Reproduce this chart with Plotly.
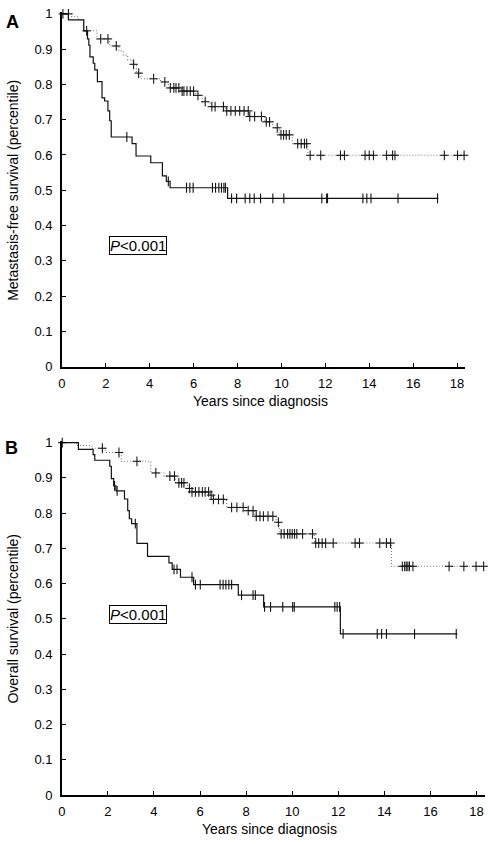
import numpy as np
import plotly.graph_objects as go

# ---------------- Panel A: metastasis-free survival ----------------
a_good_t = [0, 0.45, 0.75, 0.98, 1.6, 2.18, 2.6, 2.8, 3.0, 3.2, 3.4, 3.6, 4.5, 4.85, 5.45,
            6.1, 6.4, 6.75, 7.45, 8.52, 9.25, 9.6, 9.9, 10.5, 11.2]
a_good_s = [1.0, 0.992, 0.983, 0.952, 0.929, 0.909, 0.895, 0.883, 0.87, 0.857, 0.832, 0.816, 0.807, 0.79, 0.781,
            0.769, 0.751, 0.737, 0.725, 0.709, 0.694, 0.677, 0.657, 0.632, 0.599]
a_good_end = 18.32
a_good_cens = [0.05, 0.3, 1.13, 1.77, 2.1, 2.48, 3.27, 3.5, 4.18, 4.69, 4.94, 5.1, 5.2, 5.33, 5.48, 5.56,
               5.7, 5.85, 6.0, 6.2, 6.53, 6.83, 6.98, 7.36, 7.51, 7.7, 7.9, 8.1, 8.3, 8.49, 8.56, 8.78,
               9.09, 9.31, 9.46, 9.81, 9.98, 10.1, 10.22, 10.36, 10.74, 10.9, 11.05, 11.15, 11.31, 11.79,
               12.69, 12.87, 13.81, 14.0, 14.19, 14.79, 15.06, 15.17, 17.42, 18.02, 18.32]

a_poor_t = [0, 0.3, 1.0, 1.17, 1.23, 1.28, 1.43, 1.5, 1.62, 1.83, 1.95, 2.1, 2.18, 2.25, 3.2, 3.38,
            4.05, 4.58, 4.76, 4.93, 7.55]
a_poor_s = [1.0, 0.983, 0.952, 0.929, 0.911, 0.878, 0.86, 0.841, 0.808, 0.762, 0.753, 0.725, 0.697, 0.651,
            0.632, 0.597, 0.578, 0.541, 0.525, 0.507, 0.477]
a_poor_end = 17.15
a_poor_cens = [2.96, 4.85, 5.68, 5.83, 5.98, 6.86, 7.0, 7.15, 7.27, 7.38, 7.45, 7.73, 7.96, 8.35, 8.56,
               8.76, 9.05, 9.61, 10.11, 11.84, 12.06, 12.1, 13.71, 13.89, 14.08, 15.31, 17.11]

# ---------------- Panel B: overall survival ----------------
b_good_t = [0, 0.65, 1.3, 1.9, 2.58, 3.86, 4.44, 4.94, 5.45, 5.6, 6.42, 6.55, 7.15, 8.0, 8.37,
            9.3, 9.44, 10.97, 14.31]
b_good_s = [1.0, 0.992, 0.984, 0.972, 0.947, 0.914, 0.905, 0.886, 0.87, 0.86, 0.851, 0.839, 0.816, 0.807,
            0.791, 0.774, 0.741, 0.715, 0.649]
b_good_end = 18.31
b_good_cens = [0.02, 1.76, 2.48, 3.26, 4.08, 4.69, 4.89, 5.08, 5.2, 5.3, 5.54, 5.65, 5.8, 5.95, 6.1,
               6.22, 6.37, 6.48, 6.58, 6.8, 7.01, 7.37, 7.6, 7.87, 8.09, 8.3, 8.44, 8.6, 8.75, 8.95,
               9.16, 9.4, 9.52, 9.65, 9.8, 9.9, 10.0, 10.1, 10.2, 10.45, 10.88, 11.02, 11.15, 11.3,
               11.45, 11.78, 12.73, 12.92, 13.8, 14.09, 14.27, 14.78, 14.88, 14.95, 15.02, 15.09,
               15.24, 16.81, 17.45, 17.98, 18.31]

b_poor_t = [0, 0.72, 1.36, 1.43, 2.08, 2.15, 2.25, 2.35, 2.72, 2.86, 2.93, 3.03, 3.26, 3.72, 4.65,
            4.79, 5.15, 5.72, 7.66, 8.76, 12.09]
b_poor_s = [1.0, 0.981, 0.966, 0.95, 0.933, 0.898, 0.877, 0.863, 0.84, 0.807, 0.784, 0.77, 0.714,
            0.677, 0.659, 0.64, 0.618, 0.597, 0.567, 0.534, 0.457]
b_poor_end = 17.17
b_poor_cens = [2.29, 2.4, 3.19, 4.87, 5.0, 5.65, 5.8, 6.01, 6.87, 7.0, 7.12, 7.25, 7.37, 7.8, 8.3,
               8.4, 8.8, 9.06, 9.59, 10.02, 10.09, 11.85, 11.95, 12.06, 12.21, 13.69, 13.88, 14.09,
               15.31, 17.12]

y_ticks = [0, 0.1, 0.2, 0.3, 0.4, 0.5, 0.6, 0.7, 0.8, 0.9, 1]
y_tick_labels = ["0", "0.1", "0.2", "0.3", "0.4", "0.5", "0.6", "0.7", "0.8", "0.9", "1"]
x_ticks = [0, 2, 4, 6, 8, 10, 12, 14, 16, 18]

W, H = 490, 844
FONT = "Liberation Sans, Arial, Helvetica, sans-serif"


def level_at(times, surv, c):
    i = np.searchsorted(np.asarray(times), c, side="right") - 1
    return np.asarray(surv)[i]


fig = go.Figure()


def add_curve(times, surv, end, cens, xa, ya, dotted):
    xs = list(times) + [end]
    ys = list(surv) + [surv[-1]]
    if dotted:
        line = dict(color="#7a7a7a", width=1.1, dash="1px,2px", shape="hv")
        mcol = "#1a1a1a"
    else:
        line = dict(color="#111111", width=1.2, shape="hv")
        mcol = "#111111"
    fig.add_trace(go.Scatter(x=xs, y=ys, mode="lines", line=line, xaxis=xa, yaxis=ya,
                             showlegend=False, hoverinfo="skip"))
    cy = [level_at(times, surv, c) for c in cens]
    fig.add_trace(go.Scatter(x=cens, y=cy, mode="markers", xaxis=xa, yaxis=ya,
                             marker=dict(symbol="line-ns", size=7, line=dict(width=1.1, color=mcol)),
                             showlegend=False, hoverinfo="skip", cliponaxis=False))
    if dotted:
        # short horizontal bar of each "+" censor mark on the dotted curve
        fig.add_trace(go.Scatter(x=cens, y=cy, mode="markers", xaxis=xa, yaxis=ya,
                                 marker=dict(symbol="line-ew", size=6, line=dict(width=1.1, color=mcol)),
                                 showlegend=False, hoverinfo="skip", cliponaxis=False))


add_curve(a_good_t, a_good_s, a_good_end, a_good_cens, "x", "y", True)
add_curve(a_poor_t, a_poor_s, a_poor_end, a_poor_cens, "x", "y", False)
add_curve(b_good_t, b_good_s, b_good_end, b_good_cens, "x2", "y2", True)
add_curve(b_poor_t, b_poor_s, b_poor_end, b_poor_cens, "x2", "y2", False)


def xaxis(dom, anchor):
    return dict(domain=dom, anchor=anchor, range=[0, 18.37], tickvals=x_ticks,
                ticks="inside", ticklen=4, tickwidth=1, tickcolor="black",
                showline=True, linecolor="black", linewidth=1.5, showgrid=False, zeroline=False,
                tickfont=dict(family=FONT, size=13, color="black"), ticklabelstandoff=4)


def yaxis(dom, anchor):
    return dict(domain=dom, anchor=anchor, range=[0, 1.005], tickvals=y_ticks, ticktext=y_tick_labels,
                ticks="inside", ticklen=4, tickwidth=1, tickcolor="black",
                showline=True, linecolor="black", linewidth=1.5, showgrid=False, zeroline=False,
                tickfont=dict(family=FONT, size=13, color="black"), ticklabelstandoff=5)


fig.update_layout(
    width=W, height=H, autosize=False,
    margin=dict(l=0, r=0, t=0, b=0),
    paper_bgcolor="white", plot_bgcolor="white",
    xaxis=xaxis([58.3 / W, 465 / W], "y"),
    yaxis=yaxis([1 - 366.7 / H, 1 - 6.2 / H], "x"),
    xaxis2=xaxis([58.3 / W, 485 / W], "y2"),
    yaxis2=yaxis([1 - 802.3 / H, 1 - 442.2 / H], "x2"),
    font=dict(family=FONT, color="black"),
)


def pann(text, px, py, size=14, angle=0, bold=False, **kw):
    if bold:
        text = "<b>" + text + "</b>"
    fig.add_annotation(text=text, x=px / W, y=1 - py / H, xref="paper", yref="paper",
                       showarrow=False, textangle=angle, xanchor="center", yanchor="middle",
                       font=dict(family=FONT, size=size, color="black"), **kw)


pann("A", 8.5, 16, size=18, bold=True)
pann("B", 7.5, 449, size=18, bold=True)
pann("Metastasis-free survival (percentile)", 9, 187, size=14, angle=-90)
pann("Overall survival (percentile)", 9, 623, size=14, angle=-90)
pann("Years since diagnosis", 258.5, 402, size=14)
pann("Years since diagnosis", 267.5, 836.5, size=14)
pann("<i>P</i>&lt;0.001", 135.3, 243.3, size=15, bordercolor="black", borderwidth=1, borderpad=0)
pann("<i>P</i>&lt;0.001", 135.3, 618.3, size=15, bordercolor="black", borderwidth=1, borderpad=0)

fig.write_html("out.html", config={"displayModeBar": False},
               post_script="document.body.style.margin='0px';")
